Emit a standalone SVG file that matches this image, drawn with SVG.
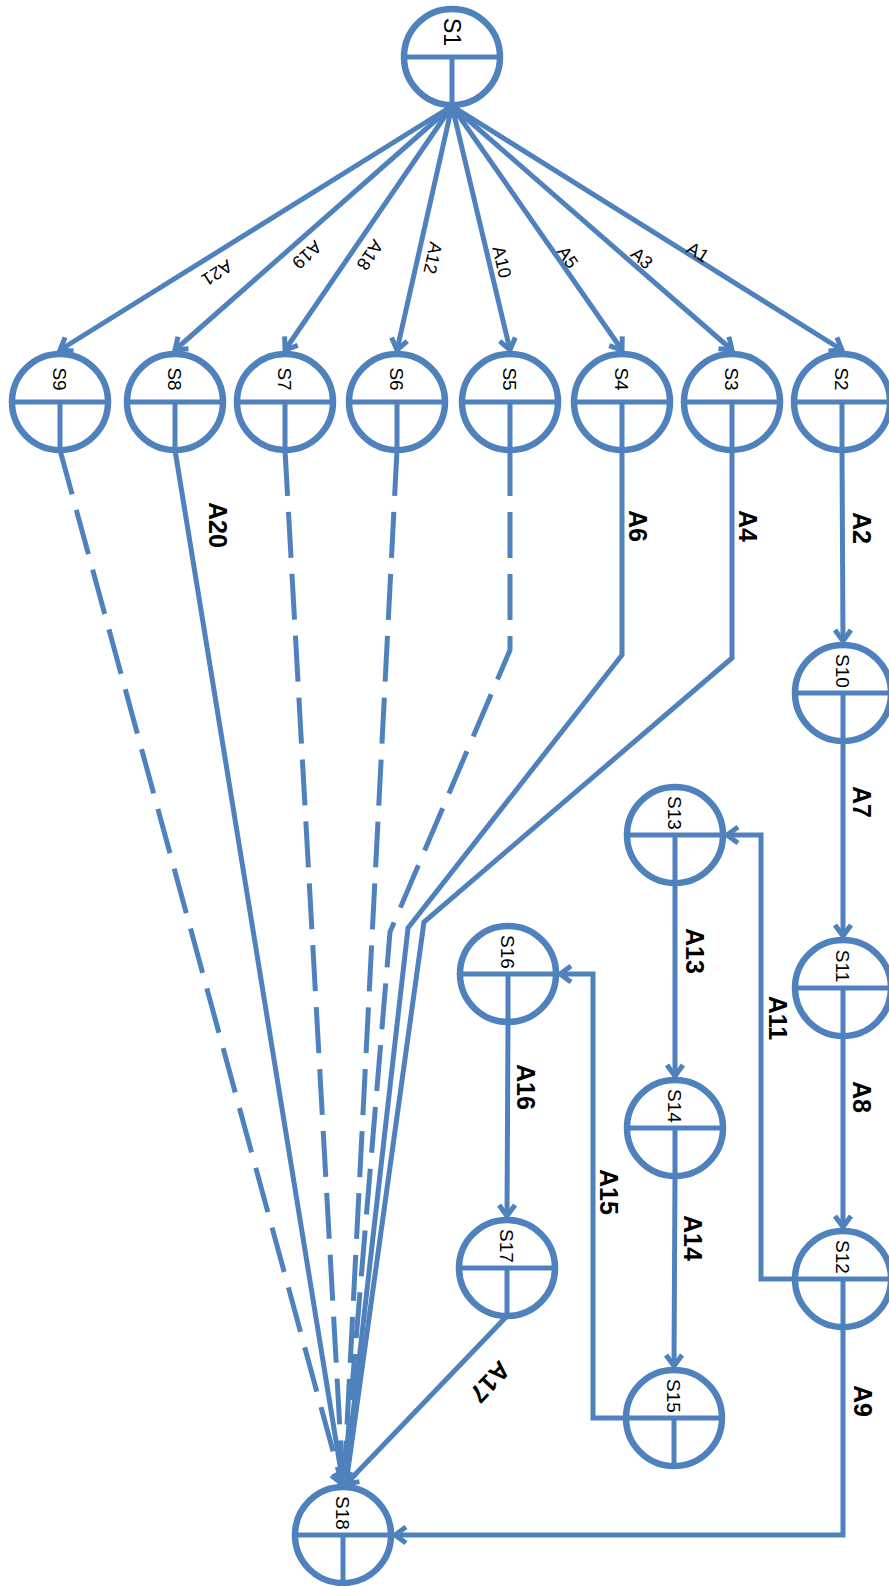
<svg xmlns="http://www.w3.org/2000/svg" width="889" height="1586" viewBox="0 0 889 1586">
<defs>
<style>
.nc{fill:none;stroke:#4F81BD;stroke-width:6.5}
.nl{stroke:#4F81BD;stroke-width:5;fill:none}
.c{fill:none;stroke:#4F81BD;stroke-width:5;stroke-linejoin:miter}
.d{stroke-dasharray:46 16}
.a{marker-end:url(#ah)}
.nt{font-family:"Liberation Sans",Arial,sans-serif;font-size:19px;fill:#000;text-anchor:middle}
.st{font-family:"Liberation Sans",Arial,sans-serif;font-size:18px;fill:#000;text-anchor:middle}
.bt{font-family:"Liberation Sans",Arial,sans-serif;font-size:25px;font-weight:bold;fill:#000;text-anchor:middle}
</style>
<marker id="ah" viewBox="-16 -12 24 24" refX="0" refY="0" markerWidth="24" markerHeight="24" markerUnits="userSpaceOnUse" orient="auto" overflow="visible">
<path d="M-11,-8 L0,0 L-11,8" fill="none" stroke="#4F81BD" stroke-width="5"/>
</marker>
<g id="nodeShape">
<circle cx="0" cy="0" r="48" class="nc"/>
<line x1="-48" y1="0" x2="48" y2="0" class="nl"/>
<line x1="0" y1="0" x2="0" y2="48" class="nl"/>
</g>
</defs>
<rect x="0" y="0" width="889" height="1586" fill="#fff"/>

<g id="connectors">
<line class="c a" x1="452" y1="106" x2="842" y2="350"/>
<line class="c a" x1="452" y1="106" x2="732" y2="350"/>
<line class="c a" x1="452" y1="106" x2="622" y2="350"/>
<line class="c a" x1="452" y1="106" x2="510" y2="350"/>
<line class="c a" x1="452" y1="106" x2="397" y2="350"/>
<line class="c a" x1="452" y1="106" x2="285" y2="350"/>
<line class="c a" x1="452" y1="106" x2="175" y2="350"/>
<line class="c a" x1="452" y1="106" x2="60" y2="350"/>

<line class="c a" x1="842" y1="450" x2="843" y2="641"/>
<line class="c a" x1="843" y1="741" x2="843" y2="936"/>
<line class="c a" x1="843" y1="1036" x2="843" y2="1227"/>
<polyline class="c a" points="843,1327 843,1535 395,1535"/>
<polyline class="c a" points="795,1279 761,1279 761,835 727,835"/>
<line class="c a" x1="675" y1="883" x2="675" y2="1076"/>
<line class="c a" x1="675" y1="1176" x2="674" y2="1366"/>
<polyline class="c a" points="626,1418 593,1418 593,974 560,974"/>
<line class="c a" x1="508" y1="1022" x2="507" y2="1216"/>
<line class="c a" x1="507" y1="1316" x2="346" y2="1484"/>

<polyline class="c a" points="732,450 732,658 424,922 346,1484"/>
<polyline class="c a" points="622,450 622,655 408,928 345,1484"/>
<polyline class="c d a" points="510,450 510,650 390,932 344,1484"/>
<line class="c d a" x1="397" y1="450" x2="344" y2="1484"/>
<line class="c d a" x1="285" y1="450" x2="343" y2="1484"/>
<line class="c a" x1="175" y1="450" x2="343" y2="1484"/>
<line class="c d a" x1="60" y1="450" x2="342" y2="1484"/>

<text class="st" transform="translate(698,252) rotate(32.6)" dy="0.35em">A1</text>
<text class="st" transform="translate(642,258) rotate(41.6)" dy="0.35em">A3</text>
<text class="st" transform="translate(568,257) rotate(55.7)" dy="0.35em">A5</text>
<text class="st" transform="translate(502,262) rotate(77)" dy="0.35em">A10</text>
<text class="st" transform="translate(433,258) rotate(102.5)" dy="0.35em">A12</text>
<text class="st" transform="translate(370,255) rotate(124)" dy="0.35em">A18</text>
<text class="st" transform="translate(307,255) rotate(138)" dy="0.35em">A19</text>
<text class="st" transform="translate(217,273) rotate(147.6)" dy="0.35em">A21</text>

<text class="bt" transform="translate(862,528) rotate(90)" dy="0.35em">A2</text>
<text class="bt" transform="translate(748,526) rotate(90)" dy="0.35em">A4</text>
<text class="bt" transform="translate(638,526) rotate(90)" dy="0.35em">A6</text>
<text class="bt" transform="translate(218,525) rotate(90)" dy="0.35em">A20</text>
<text class="bt" transform="translate(862,802) rotate(90)" dy="0.35em">A7</text>
<text class="bt" transform="translate(862,1097) rotate(90)" dy="0.35em">A8</text>
<text class="bt" transform="translate(863,1401) rotate(90)" dy="0.35em">A9</text>
<text class="bt" transform="translate(778,1018) rotate(90)" dy="0.35em">A11</text>
<text class="bt" transform="translate(695,951) rotate(90)" dy="0.35em">A13</text>
<text class="bt" transform="translate(693,1238) rotate(90)" dy="0.35em">A14</text>
<text class="bt" transform="translate(609,1192) rotate(90)" dy="0.35em">A15</text>
<text class="bt" transform="translate(526,1087) rotate(90)" dy="0.35em">A16</text>
<text class="bt" transform="translate(490,1382) rotate(133.6)" dy="0.35em">A17</text>
</g>

<g id="S1"><use href="#nodeShape" x="452" y="57"/><text class="nt" style="font-size:23px" transform="translate(452,32) rotate(90)" dy="0.35em">S1</text></g>
<g id="S2"><use href="#nodeShape" x="842" y="402"/><text class="nt" transform="translate(842,379) rotate(90)" dy="0.35em">S2</text></g>
<g id="S3"><use href="#nodeShape" x="732" y="402"/><text class="nt" transform="translate(732,379) rotate(90)" dy="0.35em">S3</text></g>
<g id="S4"><use href="#nodeShape" x="622" y="402"/><text class="nt" transform="translate(622,379) rotate(90)" dy="0.35em">S4</text></g>
<g id="S5"><use href="#nodeShape" x="510" y="402"/><text class="nt" transform="translate(510,379) rotate(90)" dy="0.35em">S5</text></g>
<g id="S6"><use href="#nodeShape" x="397" y="402"/><text class="nt" transform="translate(397,379) rotate(90)" dy="0.35em">S6</text></g>
<g id="S7"><use href="#nodeShape" x="285" y="402"/><text class="nt" transform="translate(285,379) rotate(90)" dy="0.35em">S7</text></g>
<g id="S8"><use href="#nodeShape" x="175" y="402"/><text class="nt" transform="translate(175,379) rotate(90)" dy="0.35em">S8</text></g>
<g id="S9"><use href="#nodeShape" x="60" y="402"/><text class="nt" transform="translate(60,379) rotate(90)" dy="0.35em">S9</text></g>
<g id="S10"><use href="#nodeShape" x="843" y="693"/><text class="nt" transform="translate(843,671) rotate(90)" dy="0.35em">S10</text></g>
<g id="S11"><use href="#nodeShape" x="843" y="988"/><text class="nt" transform="translate(843,966) rotate(90)" dy="0.35em">S11</text></g>
<g id="S12"><use href="#nodeShape" x="843" y="1279"/><text class="nt" transform="translate(843,1257) rotate(90)" dy="0.35em">S12</text></g>
<g id="S13"><use href="#nodeShape" x="675" y="835"/><text class="nt" transform="translate(675,813) rotate(90)" dy="0.35em">S13</text></g>
<g id="S14"><use href="#nodeShape" x="675" y="1128"/><text class="nt" transform="translate(675,1106) rotate(90)" dy="0.35em">S14</text></g>
<g id="S15"><use href="#nodeShape" x="674" y="1418"/><text class="nt" transform="translate(674,1396) rotate(90)" dy="0.35em">S15</text></g>
<g id="S16"><use href="#nodeShape" x="508" y="974"/><text class="nt" transform="translate(508,952) rotate(90)" dy="0.35em">S16</text></g>
<g id="S17"><use href="#nodeShape" x="507" y="1268"/><text class="nt" transform="translate(507,1246) rotate(90)" dy="0.35em">S17</text></g>
<g id="S18"><use href="#nodeShape" x="343" y="1535"/><text class="nt" transform="translate(343,1513) rotate(90)" dy="0.35em">S18</text></g>
</svg>
